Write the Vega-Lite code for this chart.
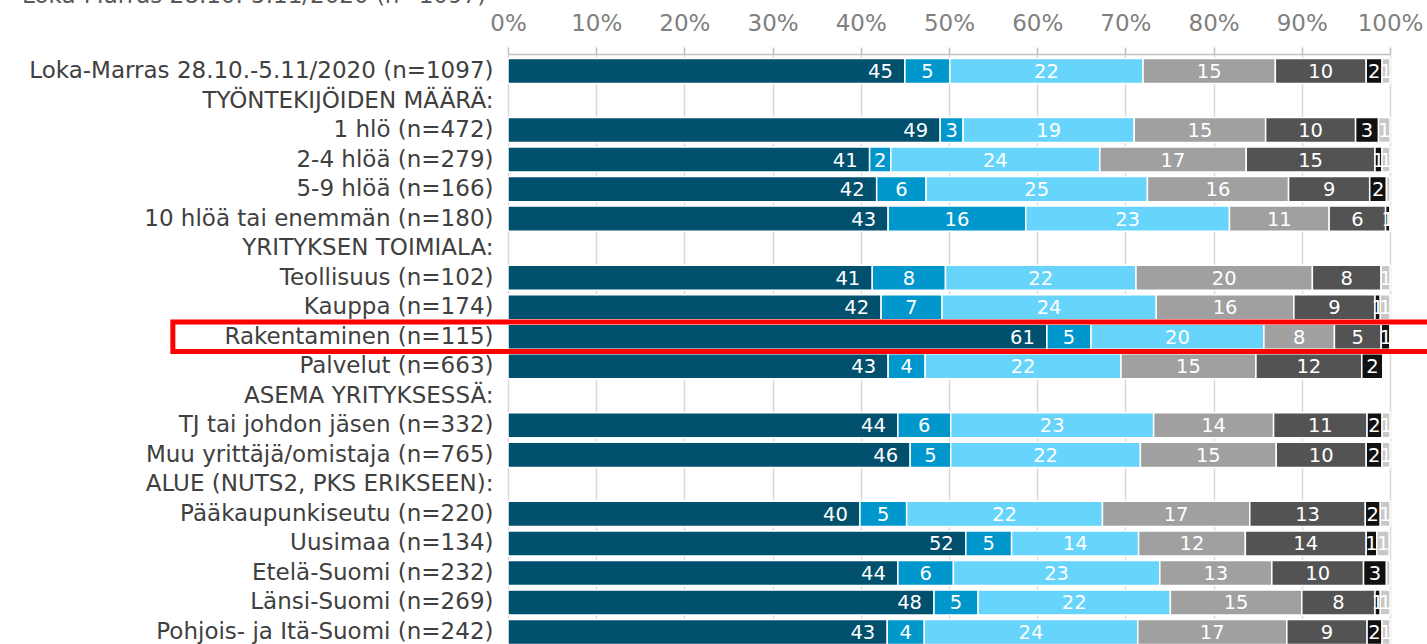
{
  "$schema": "https://vega.github.io/schema/vega-lite/v6.json",
  "autosize": {"type": "none"},
  "padding": {"left": 508, "top": 54, "right": 37, "bottom": 0},
  "width": 882,
  "height": 595,
  "background": "white",
  "title": {
    "text": "Loka-Marras 28.10.-5.11/2020 (n=1097)",
    "anchor": "start",
    "frame": "group",
    "orient": "top",
    "dx": -486,
    "dy": -4,
    "offset": 0,
    "font": "DejaVu Sans",
    "fontSize": 23,
    "fontWeight": "normal",
    "color": "#595959"
  },
  "config": {
    "view": {"stroke": null},
    "font": "DejaVu Sans"
  },
  "data": {
    "values": [
      {"row": "Loka-Marras 28.10.-5.11/2020 (n=1097)", "series": 1, "value": 45.0},
      {"row": "Loka-Marras 28.10.-5.11/2020 (n=1097)", "series": 2, "value": 5.1},
      {"row": "Loka-Marras 28.10.-5.11/2020 (n=1097)", "series": 3, "value": 21.9},
      {"row": "Loka-Marras 28.10.-5.11/2020 (n=1097)", "series": 4, "value": 15.0},
      {"row": "Loka-Marras 28.10.-5.11/2020 (n=1097)", "series": 5, "value": 10.3},
      {"row": "Loka-Marras 28.10.-5.11/2020 (n=1097)", "series": 6, "value": 1.8},
      {"row": "Loka-Marras 28.10.-5.11/2020 (n=1097)", "series": 7, "value": 0.9},
      {"row": "1 hlö (n=472)", "series": 1, "value": 49.0},
      {"row": "1 hlö (n=472)", "series": 2, "value": 2.6},
      {"row": "1 hlö (n=472)", "series": 3, "value": 19.4},
      {"row": "1 hlö (n=472)", "series": 4, "value": 14.9},
      {"row": "1 hlö (n=472)", "series": 5, "value": 10.2},
      {"row": "1 hlö (n=472)", "series": 6, "value": 2.6},
      {"row": "1 hlö (n=472)", "series": 7, "value": 1.3},
      {"row": "2-4 hlöä (n=279)", "series": 1, "value": 41.0},
      {"row": "2-4 hlöä (n=279)", "series": 2, "value": 2.4},
      {"row": "2-4 hlöä (n=279)", "series": 3, "value": 23.7},
      {"row": "2-4 hlöä (n=279)", "series": 4, "value": 16.6},
      {"row": "2-4 hlöä (n=279)", "series": 5, "value": 14.6},
      {"row": "2-4 hlöä (n=279)", "series": 6, "value": 0.8},
      {"row": "2-4 hlöä (n=279)", "series": 7, "value": 0.9},
      {"row": "5-9 hlöä (n=166)", "series": 1, "value": 41.8},
      {"row": "5-9 hlöä (n=166)", "series": 2, "value": 5.6},
      {"row": "5-9 hlöä (n=166)", "series": 3, "value": 25.1},
      {"row": "5-9 hlöä (n=166)", "series": 4, "value": 16.0},
      {"row": "5-9 hlöä (n=166)", "series": 5, "value": 9.2},
      {"row": "5-9 hlöä (n=166)", "series": 6, "value": 1.9},
      {"row": "5-9 hlöä (n=166)", "series": 7, "value": 0.4},
      {"row": "10 hlöä tai enemmän (n=180)", "series": 1, "value": 43.1},
      {"row": "10 hlöä tai enemmän (n=180)", "series": 2, "value": 15.6},
      {"row": "10 hlöä tai enemmän (n=180)", "series": 3, "value": 23.1},
      {"row": "10 hlöä tai enemmän (n=180)", "series": 4, "value": 11.3},
      {"row": "10 hlöä tai enemmän (n=180)", "series": 5, "value": 6.4},
      {"row": "10 hlöä tai enemmän (n=180)", "series": 6, "value": 0.5},
      {"row": "10 hlöä tai enemmän (n=180)", "series": 7, "value": 0.0},
      {"row": "Teollisuus (n=102)", "series": 1, "value": 41.3},
      {"row": "Teollisuus (n=102)", "series": 2, "value": 8.3},
      {"row": "Teollisuus (n=102)", "series": 3, "value": 21.6},
      {"row": "Teollisuus (n=102)", "series": 4, "value": 20.0},
      {"row": "Teollisuus (n=102)", "series": 5, "value": 7.8},
      {"row": "Teollisuus (n=102)", "series": 6, "value": 0.0},
      {"row": "Teollisuus (n=102)", "series": 7, "value": 1.0},
      {"row": "Kauppa (n=174)", "series": 1, "value": 42.3},
      {"row": "Kauppa (n=174)", "series": 2, "value": 6.9},
      {"row": "Kauppa (n=174)", "series": 3, "value": 24.3},
      {"row": "Kauppa (n=174)", "series": 4, "value": 15.6},
      {"row": "Kauppa (n=174)", "series": 5, "value": 9.2},
      {"row": "Kauppa (n=174)", "series": 6, "value": 0.6},
      {"row": "Kauppa (n=174)", "series": 7, "value": 1.1},
      {"row": "Rakentaminen (n=115)", "series": 1, "value": 61.1},
      {"row": "Rakentaminen (n=115)", "series": 2, "value": 5.0},
      {"row": "Rakentaminen (n=115)", "series": 3, "value": 19.6},
      {"row": "Rakentaminen (n=115)", "series": 4, "value": 8.0},
      {"row": "Rakentaminen (n=115)", "series": 5, "value": 5.3},
      {"row": "Rakentaminen (n=115)", "series": 6, "value": 1.0},
      {"row": "Rakentaminen (n=115)", "series": 7, "value": 0.0},
      {"row": "Palvelut (n=663)", "series": 1, "value": 43.1},
      {"row": "Palvelut (n=663)", "series": 2, "value": 4.2},
      {"row": "Palvelut (n=663)", "series": 3, "value": 22.2},
      {"row": "Palvelut (n=663)", "series": 4, "value": 15.3},
      {"row": "Palvelut (n=663)", "series": 5, "value": 12.0},
      {"row": "Palvelut (n=663)", "series": 6, "value": 2.4},
      {"row": "Palvelut (n=663)", "series": 7, "value": 0.0},
      {"row": "TJ tai johdon jäsen (n=332)", "series": 1, "value": 44.2},
      {"row": "TJ tai johdon jäsen (n=332)", "series": 2, "value": 6.0},
      {"row": "TJ tai johdon jäsen (n=332)", "series": 3, "value": 23.0},
      {"row": "TJ tai johdon jäsen (n=332)", "series": 4, "value": 13.6},
      {"row": "TJ tai johdon jäsen (n=332)", "series": 5, "value": 10.6},
      {"row": "TJ tai johdon jäsen (n=332)", "series": 6, "value": 1.7},
      {"row": "TJ tai johdon jäsen (n=332)", "series": 7, "value": 0.9},
      {"row": "Muu yrittäjä/omistaja (n=765)", "series": 1, "value": 45.6},
      {"row": "Muu yrittäjä/omistaja (n=765)", "series": 2, "value": 4.6},
      {"row": "Muu yrittäjä/omistaja (n=765)", "series": 3, "value": 21.5},
      {"row": "Muu yrittäjä/omistaja (n=765)", "series": 4, "value": 15.4},
      {"row": "Muu yrittäjä/omistaja (n=765)", "series": 5, "value": 10.2},
      {"row": "Muu yrittäjä/omistaja (n=765)", "series": 6, "value": 1.8},
      {"row": "Muu yrittäjä/omistaja (n=765)", "series": 7, "value": 0.9},
      {"row": "Pääkaupunkiseutu (n=220)", "series": 1, "value": 39.9},
      {"row": "Pääkaupunkiseutu (n=220)", "series": 2, "value": 5.3},
      {"row": "Pääkaupunkiseutu (n=220)", "series": 3, "value": 22.2},
      {"row": "Pääkaupunkiseutu (n=220)", "series": 4, "value": 16.7},
      {"row": "Pääkaupunkiseutu (n=220)", "series": 5, "value": 13.1},
      {"row": "Pääkaupunkiseutu (n=220)", "series": 6, "value": 1.7},
      {"row": "Pääkaupunkiseutu (n=220)", "series": 7, "value": 1.1},
      {"row": "Uusimaa (n=134)", "series": 1, "value": 51.9},
      {"row": "Uusimaa (n=134)", "series": 2, "value": 5.2},
      {"row": "Uusimaa (n=134)", "series": 3, "value": 14.4},
      {"row": "Uusimaa (n=134)", "series": 4, "value": 12.1},
      {"row": "Uusimaa (n=134)", "series": 5, "value": 13.7},
      {"row": "Uusimaa (n=134)", "series": 6, "value": 1.2},
      {"row": "Uusimaa (n=134)", "series": 7, "value": 1.4},
      {"row": "Etelä-Suomi (n=232)", "series": 1, "value": 44.2},
      {"row": "Etelä-Suomi (n=232)", "series": 2, "value": 6.3},
      {"row": "Etelä-Suomi (n=232)", "series": 3, "value": 23.4},
      {"row": "Etelä-Suomi (n=232)", "series": 4, "value": 12.7},
      {"row": "Etelä-Suomi (n=232)", "series": 5, "value": 10.4},
      {"row": "Etelä-Suomi (n=232)", "series": 6, "value": 2.6},
      {"row": "Etelä-Suomi (n=232)", "series": 7, "value": 0.4},
      {"row": "Länsi-Suomi (n=269)", "series": 1, "value": 48.3},
      {"row": "Länsi-Suomi (n=269)", "series": 2, "value": 5.0},
      {"row": "Länsi-Suomi (n=269)", "series": 3, "value": 21.8},
      {"row": "Länsi-Suomi (n=269)", "series": 4, "value": 14.9},
      {"row": "Länsi-Suomi (n=269)", "series": 5, "value": 8.3},
      {"row": "Länsi-Suomi (n=269)", "series": 6, "value": 0.6},
      {"row": "Länsi-Suomi (n=269)", "series": 7, "value": 1.1},
      {"row": "Pohjois- ja Itä-Suomi (n=242)", "series": 1, "value": 43.0},
      {"row": "Pohjois- ja Itä-Suomi (n=242)", "series": 2, "value": 4.2},
      {"row": "Pohjois- ja Itä-Suomi (n=242)", "series": 3, "value": 24.2},
      {"row": "Pohjois- ja Itä-Suomi (n=242)", "series": 4, "value": 16.9},
      {"row": "Pohjois- ja Itä-Suomi (n=242)", "series": 5, "value": 9.1},
      {"row": "Pohjois- ja Itä-Suomi (n=242)", "series": 6, "value": 1.7},
      {"row": "Pohjois- ja Itä-Suomi (n=242)", "series": 7, "value": 0.9}
    ]
  },
  "encoding": {
    "y": {
      "field": "row",
      "type": "nominal",
      "scale": {
        "domain": [
          "Loka-Marras 28.10.-5.11/2020 (n=1097)",
          "TYÖNTEKIJÖIDEN MÄÄRÄ:",
          "1 hlö (n=472)",
          "2-4 hlöä (n=279)",
          "5-9 hlöä (n=166)",
          "10 hlöä tai enemmän (n=180)",
          "YRITYKSEN TOIMIALA:",
          "Teollisuus (n=102)",
          "Kauppa (n=174)",
          "Rakentaminen (n=115)",
          "Palvelut (n=663)",
          "ASEMA YRITYKSESSÄ:",
          "TJ tai johdon jäsen (n=332)",
          "Muu yrittäjä/omistaja (n=765)",
          "ALUE (NUTS2, PKS ERIKSEEN):",
          "Pääkaupunkiseutu (n=220)",
          "Uusimaa (n=134)",
          "Etelä-Suomi (n=232)",
          "Länsi-Suomi (n=269)",
          "Pohjois- ja Itä-Suomi (n=242)"
        ],
        "paddingInner": 0.15,
        "paddingOuter": 0.15
      },
      "axis": {
        "title": null,
        "domain": false,
        "ticks": false,
        "labelFontSize": 23,
        "labelFont": "DejaVu Sans",
        "labelColor": "#404040",
        "labelPadding": 15,
        "labelLimit": 600
      }
    }
  },
  "layer": [
    {
      "mark": {"type": "bar", "stroke": "white", "strokeWidth": 1.5},
      "encoding": {
        "x": {
          "field": "value",
          "type": "quantitative",
          "stack": "zero",
          "scale": {"domain": [0, 100], "nice": false},
          "axis": {
            "orient": "top",
            "title": null,
            "values": [0, 10, 20, 30, 40, 50, 60, 70, 80, 90, 100],
            "labelExpr": "datum.value + '%'",
            "labelOverlap": false,
            "labelFlush": false,
            "grid": true,
            "gridColor": "#D9D9D9",
            "gridWidth": 1.5,
            "domainColor": "#BFBFBF",
            "domainWidth": 1.5,
            "tickColor": "#BFBFBF",
            "tickWidth": 1.5,
            "tickSize": 7,
            "labelFontSize": 23,
            "labelFont": "DejaVu Sans",
            "labelColor": "#808080",
            "labelPadding": 12
          }
        },
        "color": {
          "field": "series",
          "type": "nominal",
          "scale": {
            "domain": [1, 2, 3, 4, 5, 6, 7],
            "range": ["#00506E", "#0097CC", "#66D4FB", "#A0A0A0", "#535353", "#111111", "#C8C8C8"]
          },
          "legend": null
        },
        "order": {"field": "series", "type": "quantitative"}
      }
    },
    {
      "transform": [{"filter": "datum.series == 1"}],
      "mark": {"type": "text", "align": "right", "baseline": "middle", "dx": -12, "dy": 1, "fontSize": 19.5, "font": "DejaVu Sans", "color": "white"},
      "encoding": {
        "x": {"field": "value", "type": "quantitative"},
        "text": {"field": "value", "type": "quantitative", "format": ".0f"}
      }
    },
    {
      "mark": {"type": "text", "align": "center", "baseline": "middle", "dy": 1, "fontSize": 19.5, "font": "DejaVu Sans", "color": "white"},
      "encoding": {
        "x": {"field": "value", "type": "quantitative", "stack": "zero", "bandPosition": 0.5},
        "order": {"field": "series", "type": "quantitative"},
        "text": {"field": "value", "type": "quantitative", "format": ".0f"},
        "opacity": {
          "condition": {"test": "datum.series == 1 || datum.value < 0.5", "value": 0},
          "value": 1
        }
      }
    },
    {
      "data": {"values": [{"row": "Rakentaminen (n=115)"}]},
      "mark": {"type": "bar", "fill": null, "fillOpacity": 0, "stroke": "#FF0000", "strokeWidth": 5, "clip": false, "height": {"band": 1.18}},
      "encoding": {
        "x": {"datum": -38.0},
        "x2": {"datum": 106}
      }
    }
  ]
}
